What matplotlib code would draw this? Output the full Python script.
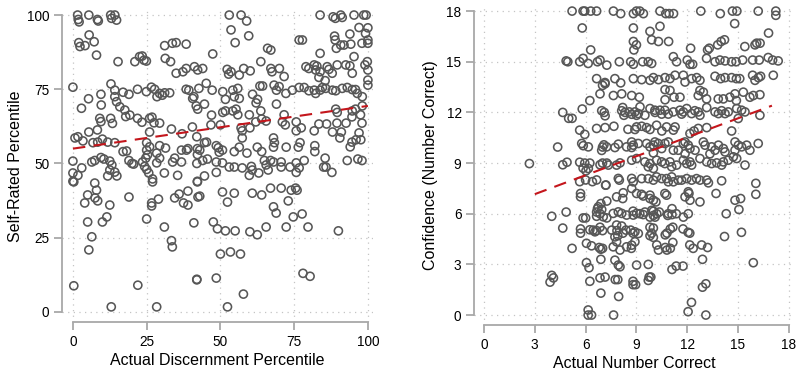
import matplotlib
matplotlib.use('Agg')
import matplotlib.pyplot as plt

# Left panel: (actual discernment percentile, self-rated percentile)
discern_pts = [
    (1.6, 100), (1.8, 98.5), (2.1, 97.7), (5.4, 100), (8.3, 98.5), (8.6, 98), (12.8, 100), (13.1, 98.9),
    (14.2, 100), (14.8, 98.3), (2, 90.7), (2.4, 89.4), (4.1, 89.7), (5.5, 93.3), (7.2, 91), (8, 86.5),
    (15.3, 84.3), (21, 84.3), (22.6, 86), (23.5, 86.2), (24.1, 84.8), (24.9, 84.5), (31.1, 89.7),
    (33.7, 90.5), (35, 90.7), (38.4, 90.2), (31.3, 85.4), (33.1, 84.3), (35, 80.4), (37.3, 80.9),
    (38.4, 82), (41.2, 82.6), (42.3, 81.5), (39.3, 74.7), (41, 72.5), (41.8, 69.4), (0, 75.7),
    (2.9, 68.6), (5.3, 71.8), (9.5, 73.3), (9.6, 69.7), (12.9, 76.8), (14.2, 74.7), (14.2, 72.5),
    (14.8, 70.8), (15.9, 69.1), (17, 74), (19, 73.3), (21.9, 75), (24.9, 74.2), (26.6, 75.7), (27.7, 75),
    (28.5, 72.5), (29.4, 73.6), (30.3, 73), (31.1, 73.8), (32.8, 73.8), (38.4, 75), (40.6, 71.9),
    (42.7, 75.3), (17.6, 68), (19.3, 66.3), (47, 66.3),
    (9.1, 65.2), (9.5, 64.1), (12.8, 65.2), (13.4, 63.5), (17.9, 65.8), (21.9, 65.2), (23.4, 63.9),
    (26, 65.2), (27.5, 63.7), (26.8, 65.6), (8.3, 61.3), (5.4, 60.6), (0.7, 58.6), (1.7, 59), (3.4, 57.6),
    (6.8, 57), (8.4, 57.2), (10, 58.2), (11.8, 57.2), (14.2, 57), (17, 54), (25, 57), (26, 55.6),
    (29.4, 56), (25, 54.5), (28.4, 53.5), (25.3, 52.9), (31.4, 55.2), (33.4, 61.6), (37, 60), (40.5, 62.3),
    (42, 59), (29.4, 63.6), (26, 60.6), (0, 50.8), (0, 46.8), (0, 44), (1.7, 46), (3, 48.5), (6.4, 50.5),
    (7.4, 51), (9.5, 52), (10.5, 51.5), (12.5, 50.8), (13.2, 49.5), (12.5, 47.8), (11.8, 45.8),
    (14.2, 47.1), (14.9, 45.8), (19, 51), (20, 50), (20.6, 49.8), (23.6, 50.5), (24.7, 51.8), (24.3, 49),
    (25, 48), (25.7, 46.8), (27, 44.8), (28.4, 50.2), (29.4, 51.8), (31, 46.8), (33.8, 50.5), (34.5, 51.8),
    (36.8, 50.5), (35.5, 46), (36.8, 54.5), (38.5, 54.5), (39, 55), (42.2, 55), (42.2, 53), (43, 54.5),
    (44.6, 57), (45.3, 57.2), (42, 50), (44, 51), (45.6, 51.5), (48.6, 50.5), (48.6, 47), (44.6, 45.8),
    (42.2, 44), (18.2, 54.2),
    (0.3, 43.8), (5, 39.4), (7.4, 43.4), (8, 41), (7.5, 38.4), (8.4, 37.4), (4, 36.7), (12.5, 36), (5, 30.3),
    (10, 30.3), (11.5, 32), (6.4, 25.3), (5.4, 20.9), (0.3, 8.8), (13, 1.7), (19, 38.7), (22, 9), (25, 31.3),
    (26.7, 36.7), (26.7, 35.7), (29, 38), (28.4, 1.7), (31, 28.6), (33.4, 24), (33.7, 21.9), (34.5, 38.4),
    (36, 39.7), (37.5, 36.7), (39, 40.7), (39, 36), (41, 30), (42, 10.8), (42.4, 38.7), (27, 43.8),
    (42.2, 43.8), (43, 39),
    (53, 100), (57, 100), (58.9, 98), (53.6, 95), (59.6, 93), (55, 90.7), (47.4, 86.9), (76.7, 91.6),
    (77.8, 91.6), (83.8, 100), (88.2, 99.4), (89, 98.9), (90.8, 100), (91.3, 99.2), (95.3, 100), (98.6, 100),
    (99.4, 100), (97, 95.8), (100, 95.7), (99.2, 93.8), (100, 91.6), (100, 90.5), (88.7, 92.9), (88.9, 91.6),
    (89.3, 88.8), (90.8, 89.9), (91.9, 89.9), (93.9, 93.6), (94.2, 90.2), (98, 90.5), (83.8, 87.1),
    (95.3, 86), (66, 88.8), (67.1, 88.2), (93.9, 82.9), (99.8, 84.3), (99, 83.2), (94.7, 80.4), (100, 81.5),
    (100, 78.1), (100, 76.4), (44, 82), (52.3, 81.7), (53.6, 80.9), (52.8, 80.1), (56.4, 79.8), (57.9, 82),
    (60.1, 81.2), (63.7, 84.3), (67.1, 82), (67.5, 80.9), (70, 82), (71.6, 79.3), (79, 82.6), (80, 82),
    (81.8, 83.2), (82.3, 81.5), (82.7, 82.8), (83.8, 80.9), (83.4, 79), (86.2, 82.6), (86.8, 81.7),
    (87.9, 80.4), (85.5, 77.9), (89.6, 83.2), (92.5, 83.2), (45.2, 77), (47.2, 74.7), (50.8, 74.2),
    (51.7, 71.6), (54.2, 74.7), (55.9, 75.3), (54.7, 72.5), (56.4, 71.9), (60.9, 73.3), (62.6, 71.6),
    (63.4, 76.1), (64.3, 76.1), (68.2, 76.4), (69, 74.7), (69.9, 75.9), (72.2, 73.6), (74.4, 74.7),
    (76.7, 75.6), (78.4, 75.6), (80, 74.5), (81.8, 74.7), (82.3, 73.6), (83.8, 74.7), (84.6, 75.6),
    (85.7, 75.3), (88, 74.7), (89.1, 74.5), (91.3, 75.3), (93, 75.6), (94.7, 74.9), (95.8, 74.9),
    (96.4, 73.6), (98.1, 72.5), (42.3, 68.3), (44.6, 70), (50.8, 67.2), (51.7, 67.7), (54.2, 67.7),
    (55.3, 68.3), (55.9, 66.4), (59.8, 66.4), (62.1, 70.4), (63.7, 67.7), (69, 70), (71.6, 66.4),
    (89.1, 68.3), (89.6, 67.2), (94.7, 67.7), (95.8, 68.3), (98.1, 69.4), (97.5, 66.4),
    (57, 62), (62, 64), (64, 65), (65.5, 64.3), (71, 64), (72, 63), (75.7, 64), (75.7, 61), (77.4, 62),
    (81.8, 61), (83.4, 63.3), (86, 63.3), (89.5, 63.6), (92.6, 63.6), (88, 60.6), (90.5, 58.6), (91, 60.6),
    (94.6, 57.2), (96, 58), (97.6, 58), (94, 55.6), (97, 60.3), (98, 63.6), (94.6, 65.7), (93, 51),
    (96.6, 51.5), (98, 51), (48.6, 56), (49.3, 55.3), (49.6, 53.8), (50.7, 54.5), (56.4, 55.5),
    (57.4, 58.6), (54.7, 54), (59, 53.5), (62.5, 55.5), (64, 54), (68, 58.6), (68.3, 57), (68, 55.5),
    (72.3, 55.5), (76.4, 55.5), (77, 57), (82, 56), (82, 54), (85.5, 51.8), (50.7, 50.2), (53, 48.8),
    (54.7, 48.8), (57.4, 48.5), (60.5, 49), (60.8, 47.8), (63, 46.8), (64.9, 51), (65.5, 49.5), (67, 51),
    (68, 50.5), (70.6, 50.5), (70.6, 48.8), (73.6, 48.8), (75.7, 50.2), (76.7, 48.5), (78.4, 51),
    (75.7, 47), (85, 48.8), (85.8, 48.8), (87.8, 47), (59.8, 46), (66.2, 47.8), (46.8, 63), (50, 63),
    (57.4, 61), (60, 62),
    (50.7, 40.4), (54.7, 40), (52.4, 37), (60.8, 40), (64, 39.4), (67, 41.7), (70.6, 41.7), (74, 41),
    (75.5, 41.7), (76, 41), (73, 37.4), (68, 35.4), (68.9, 33.3), (77.7, 33), (74.7, 32), (72.3, 28.6),
    (65.5, 28.6), (79.7, 28.6), (90, 27.3), (47.6, 30.3), (49, 28), (51.7, 27.3), (55, 27.3), (60, 27),
    (62.5, 26), (50, 19.5), (53.4, 20.2), (56.8, 19.5), (42, 11), (48.6, 11.4), (78, 13), (80.4, 12),
    (57.8, 6), (52.4, 1.7),
]

# Right panel: (actual number correct, confidence)
correct_pts = [
    (5.2, 18), (5.85, 18), (5.95, 18), (6.3, 18), (6.65, 18), (7.64, 18), (8.07, 17.85), (8.82, 17.85),
    (9.0, 18), (9.2, 18), (9.41, 17.85), (10.39, 18), (10.73, 17.85), (10.93, 17.85), (11.19, 17.85),
    (12.8, 18), (13.95, 17.85), (14.67, 18), (14.93, 18), (16.19, 18), (17.23, 18), (17.23, 17.75),
    (5.8, 17.0), (8.82, 17.0), (10.39, 17.1), (9.8, 16.8), (14.8, 17.26), (16.8, 16.7),
    (6.3, 15.7), (8.82, 16.2), (9.0, 16.0), (8.85, 15.7), (9.9, 16.3), (10.3, 16.2), (10.9, 16.2),
    (12.2, 15.8), (13.2, 15.7), (13.3, 15.8), (13.8, 16.0), (14.0, 16.2), (14.2, 16.3), (15.4, 15.9),
    (16.0, 16.0), (16.1, 16.1), (16.3, 16.1),
    (4.85, 15.05), (4.95, 15.0), (5.65, 15.0), (5.85, 15.2), (6.15, 14.9), (6.7, 15.0), (6.85, 15.1),
    (7.25, 14.8), (7.99, 15.0), (8.66, 15.0), (8.82, 14.85), (9.37, 15.0), (9.7, 15.0), (9.9, 14.9),
    (11.18, 15.3), (11.37, 15.0), (12.0, 15.1), (12.16, 14.85), (12.32, 14.85), (13.14, 15.2),
    (13.64, 15.0), (13.93, 15.1), (14.23, 15.05), (14.62, 15.0), (14.88, 15.0), (15.27, 15.1),
    (15.86, 15.1), (16.25, 15.1), (16.78, 15.25), (17.04, 15.1), (17.37, 15.05),
    (6.65, 14.0), (7.15, 13.7), (7.0, 13.6), (7.14, 13.77), (7.73, 14.0), (8.07, 13.75), (8.82, 14.0),
    (9.31, 13.94), (9.8, 13.9), (10.0, 14.06), (10.3, 13.94), (10.69, 14.06), (10.98, 14.0), (11.28, 14.2),
    (11.77, 14.2), (11.87, 13.8), (12.26, 14.0), (12.56, 14.06), (12.75, 13.9), (13.64, 14.14),
    (13.97, 14.0), (14.23, 14.06), (14.62, 14.06), (14.9, 14.0), (15.1, 14.0), (15.86, 14.2), (16.0, 13.9),
    (16.2, 14.06), (16.33, 14.14), (17.08, 14.2),
    (6.85, 13.1), (7.64, 13.0), (8.13, 13.1), (8.72, 13.0), (9.17, 12.9), (10.69, 13.35), (10.98, 13.3),
    (10.69, 12.75), (11.22, 12.9), (11.57, 12.9), (12.65, 13.0), (12.75, 13.3), (12.95, 13.2),
    (13.14, 12.8), (13.83, 12.8), (14.13, 12.8), (14.52, 12.9), (14.82, 13.1), (15.31, 13.2), (15.7, 12.9),
    (16.29, 13.05), (14.9, 12.7), (15.9, 13.0), (6.25, 12.7),
    (4.65, 12.0), (5.8, 12.2), (6.95, 12.1), (7.1, 12.0), (5.0, 11.65), (5.2, 11.65), (7.15, 11.8),
    (8.19, 12.29), (8.26, 11.83), (8.58, 12.03), (8.72, 11.89), (8.91, 12.03), (9.01, 11.83), (9.11, 11.93),
    (9.21, 12.33), (9.5, 11.83), (9.8, 12.23), (10.09, 12.13), (10.39, 12.13), (10.49, 11.9),
    (10.68, 12.13), (11.18, 12.03), (11.57, 12.13), (11.67, 11.9), (11.77, 12.03), (11.97, 12.23),
    (12.26, 11.93), (12.65, 12.03), (12.75, 11.83), (13.15, 12.29), (13.64, 12.03), (13.84, 11.93),
    (14.23, 11.93), (14.42, 12.03), (14.92, 12.23), (15.21, 12.13), (15.41, 12.03), (15.01, 11.64),
    (16.29, 11.83), (8.13, 12.1), (8.33, 12.0), (10.1, 12.0), (10.88, 11.9), (12.45, 12.1), (14.03, 12.1),
    (5.65, 10.95), (5.95, 10.7), (6.65, 11.05), (7.15, 11.1), (7.67, 11.18), (8.91, 10.99), (9.01, 11.14),
    (9.31, 11.18), (9.8, 10.99), (10.19, 11.24), (10.78, 11.14), (11.18, 10.95), (11.28, 11.14),
    (12.16, 10.75), (12.65, 11.05), (13.15, 11.1), (14.62, 10.9), (8.5, 11.0), (9.6, 11.1), (10.5, 10.9),
    (12.4, 10.9),
    (8.72, 10.25), (8.81, 10.06), (9.11, 10.16), (9.6, 10.16), (9.8, 9.96), (10.0, 10.06), (10.09, 10.25),
    (10.29, 10.16), (10.49, 9.86), (10.68, 10.16), (10.88, 10.25), (11.18, 9.76), (11.47, 9.76),
    (11.77, 10.16), (11.87, 10.25), (12.06, 10.06), (12.16, 9.86), (12.46, 9.76), (12.95, 10.25),
    (13.05, 10.06), (13.44, 9.96), (13.64, 9.76), (13.84, 10.06), (14.13, 9.86), (14.23, 9.66),
    (14.82, 10.25), (15.02, 10.06), (14.82, 9.76), (15.21, 9.96), (15.51, 10.06), (15.7, 9.76),
    (16.19, 10.16), (4.35, 9.95), (5.77, 10.16), (5.86, 10.03), (6.16, 9.96), (7.0, 9.95), (7.24, 9.96),
    (7.08, 10.08), (6.95, 9.75), (7.73, 9.92), (7.93, 10.12), (8.42, 9.96), (8.72, 9.92), (10.0, 9.6),
    (11.87, 9.55), (13.34, 9.55),
    (2.68, 8.97), (4.65, 8.9), (4.9, 9.05), (5.65, 9.05), (5.95, 9.0), (6.25, 9.0), (5.85, 8.7), (6.85, 8.9),
    (7.0, 9.0), (7.25, 9.0), (6.16, 8.68), (6.02, 8.54), (7.34, 8.88), (7.83, 8.88), (8.03, 9.01),
    (8.72, 9.17), (9.01, 9.27), (9.5, 9.07), (9.7, 8.78), (9.8, 8.97), (10.0, 8.68), (10.19, 9.17),
    (10.49, 9.07), (10.68, 8.97), (10.98, 9.07), (11.08, 8.78), (11.37, 8.88), (11.77, 9.17), (11.97, 8.97),
    (12.16, 9.07), (12.26, 8.88), (12.75, 9.27), (13.15, 9.07), (13.44, 8.97), (13.74, 9.01), (14.13, 9.07),
    (14.03, 8.88), (14.42, 9.17), (14.72, 9.37), (14.92, 9.27), (15.41, 8.88),
    (5.65, 7.9), (6.0, 8.0), (6.4, 7.9), (6.65, 8.0), (7.18, 7.69), (7.93, 8.09), (7.99, 7.99), (8.72, 8.09),
    (8.81, 7.89), (9.31, 8.08), (9.7, 8.08), (10.0, 7.99), (10.19, 8.18), (10.49, 8.08), (10.78, 8.08),
    (10.88, 7.89), (11.08, 8.18), (11.18, 7.89), (11.47, 7.99), (11.67, 7.99), (11.97, 8.08), (12.26, 7.99),
    (12.55, 8.08), (12.75, 7.99), (13.15, 7.99), (13.25, 7.83), (14.03, 7.95), (16.05, 7.8),
    (5.7, 7.2), (5.7, 7.0), (7.2, 7.7), (7.83, 7.0), (8.19, 6.9), (8.22, 7.24), (7.25, 6.75), (8.72, 7.5),
    (9.01, 7.2), (9.3, 7.15), (9.4, 7.05), (9.8, 7.1), (9.8, 6.9), (10.0, 6.8), (10.15, 6.7), (10.68, 7.2),
    (10.78, 7.1), (11.87, 7.0), (12.06, 7.3), (12.16, 6.8), (12.1, 7.2), (12.75, 6.7), (13.7, 7.2),
    (14.82, 6.8), (15.15, 6.9), (16.05, 7.15),
    (6.9, 6.6), (6.7, 6.3), (6.65, 6.1), (6.85, 6.0), (6.65, 5.85), (4.0, 5.85), (4.85, 6.1), (5.85, 5.75),
    (6.0, 5.75), (7.25, 5.75), (6.95, 6.25), (7.04, 5.82), (6.75, 6.41), (7.63, 6.02), (7.93, 6.11),
    (8.13, 6.02), (8.42, 5.92), (8.81, 5.92), (9.01, 6.02), (8.8, 6.15), (9.2, 6.0), (9.4, 5.95), (9.5, 6.1),
    (9.8, 5.8), (9.9, 6.2), (10.0, 6.15), (10.0, 5.9), (10.1, 5.8), (10.2, 6.0), (10.35, 6.1), (10.88, 6.0),
    (11.1, 6.3), (10.85, 5.9), (11.1, 5.95), (11.35, 6.0), (11.77, 5.8), (12.06, 6.0), (14.3, 6.0),
    (15.05, 6.25),
    (4.65, 5.15), (5.7, 5.1), (5.7, 4.85), (6.25, 5.05), (6.65, 5.0), (6.85, 5.2), (6.55, 4.93), (7.0, 5.0),
    (7.54, 5.03), (7.83, 5.33), (8.13, 5.27), (8.38, 5.03), (8.66, 5.03), (8.91, 4.93), (9.11, 4.83),
    (7.85, 5.0), (8.2, 4.85), (7.9, 4.7), (8.8, 4.85), (9.8, 5.2), (10.0, 5.15), (9.9, 4.85), (9.8, 4.7),
    (10.0, 4.6), (10.7, 4.75), (10.8, 4.85), (11.0, 5.1), (11.15, 5.2), (11.75, 5.1), (12.05, 4.9),
    (12.15, 4.85), (15.2, 4.9), (14.2, 4.65), (6.45, 5.03),
    (5.2, 3.95), (6.05, 4.25), (6.35, 4.1), (6.8, 4.0), (6.9, 3.9), (7.73, 4.63), (7.83, 4.34), (7.63, 4.04),
    (8.03, 3.85), (8.42, 4.04), (8.72, 4.14), (8.91, 4.34), (7.0, 3.95), (8.7, 3.95), (10.2, 4.15),
    (10.3, 3.85), (10.7, 4.0), (10.8, 3.85), (11.0, 3.95), (11.15, 4.3), (12.15, 4.15), (12.35, 3.95),
    (12.85, 4.15), (13.2, 4.0),
    (6.9, 3.3), (6.05, 3.1), (6.2, 2.8), (7.73, 3.25), (7.93, 2.96), (8.03, 2.86), (9.01, 2.96), (9.7, 3.0),
    (12.9, 3.3), (11.1, 2.7), (11.35, 2.9), (11.75, 2.9), (15.9, 3.1),
    (6.85, 2.2), (7.15, 2.25), (6.25, 2.0), (4.0, 2.35), (4.1, 2.2), (3.9, 1.95), (7.75, 2.1), (7.9, 2.1),
    (8.8, 2.0), (8.8, 1.8), (8.95, 1.8), (9.7, 2.05), (9.75, 2.25), (9.85, 2.25), (12.9, 1.65), (13.1, 1.85),
    (6.9, 1.3), (7.95, 1.1), (12.25, 0.75), (6.15, 0.3), (6.15, 0), (6.35, 0), (12.05, 0.2), (13.1, 0),
    (7.65, 0),
]

# Fitted trend lines (end points)
discern_fit_x = [0, 100]
discern_fit_y = [55.0, 69.4]
correct_fit_x = [3, 17]
correct_fit_y = [7.16, 12.4]

pct_ticks = [0, 25, 50, 75, 100]
num_ticks = [0, 3, 6, 9, 12, 15, 18]

plt.rcParams['font.family'] = ['Liberation Sans', 'DejaVu Sans']

fig = plt.figure(figsize=(8, 3.72), dpi=100)
ax1 = fig.add_axes([0.0775, 0.1344, 0.389, 0.8387])
ax2 = fig.add_axes([0.5925, 0.1263, 0.401, 0.8575])


def style(ax, ticks, xlim, ylim):
    ax.set_xlim(*xlim)
    ax.set_ylim(*ylim)
    ax.set_xticks(ticks)
    ax.set_yticks(ticks)
    for side in ['top', 'right']:
        ax.spines[side].set_visible(False)
    for side in ['left', 'bottom']:
        ax.spines[side].set_color('#a8a8a8')
        ax.spines[side].set_linewidth(1.3)
    ax.spines['left'].set_bounds(ticks[0], ticks[-1])
    ax.spines['bottom'].set_bounds(ticks[0], ticks[-1])
    ax.tick_params(direction='out', length=6, width=1.3, color='#a8a8a8',
                   labelcolor='black', labelsize=9.8, pad=3)
    ax.grid(True, linestyle=(0, (1, 3.5)), color='#c4c4c4', linewidth=0.9)
    ax.set_axisbelow(True)


style(ax1, pct_ticks, (-3.7, 101.8), (-3.4, 101.7))
xs = [p[0] for p in discern_pts]
ys = [p[1] for p in discern_pts]
ax1.scatter(xs, ys, s=34, facecolors='none', edgecolors='#575757',
            linewidths=1.15, clip_on=False, zorder=2)
ax1.plot(discern_fit_x, discern_fit_y, color='#c4161c', linestyle=(0, (6, 4)),
         linewidth=1.5, zorder=3)
ax1.set_xlabel('Actual Discernment Percentile', fontsize=11.5, labelpad=3)
ax1.set_ylabel('Self-Rated Percentile', fontsize=11.5, labelpad=3)

style(ax2, num_ticks, (-0.59, 18.35), (-0.59, 18.3))
xs = [p[0] for p in correct_pts]
ys = [p[1] for p in correct_pts]
ax2.scatter(xs, ys, s=34, facecolors='none', edgecolors='#575757',
            linewidths=1.15, clip_on=False, zorder=2)
ax2.plot(correct_fit_x, correct_fit_y, color='#c4161c', linestyle=(0, (6, 4)),
         linewidth=1.5, zorder=3)
ax2.set_xlabel('Actual Number Correct', fontsize=11.5, labelpad=3)
ax2.set_ylabel('Confidence (Number Correct)', fontsize=11.5, labelpad=6)

fig.savefig('out.png', dpi=100)
